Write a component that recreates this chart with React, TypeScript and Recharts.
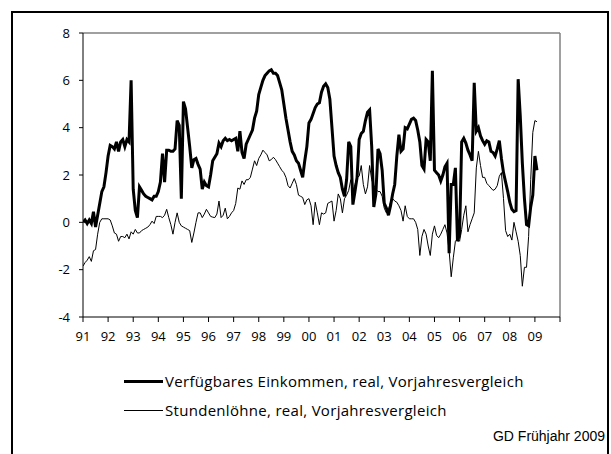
import React from 'react';
import { LineChart, Line, XAxis, YAxis, ReferenceLine } from 'recharts';

// Verfügbares Einkommen, real, Vorjahresvergleich (monthly, Jan 1991 – Feb 2009)
const einkommen: number[] = [
  0.0, 0.1, -0.05, 0.1, -0.05, 0.45, -0.2, 0.3, 0.8, 1.3, 1.5, 2.1, // 1991
  2.8, 3.25, 3.2, 3.1, 3.4, 3.0, 3.4, 3.5, 3.2, 3.5, 3.4, 6.0, // 1992
  1.4, 0.5, 0.2, 1.5, 1.35, 1.2, 1.1, 1.05, 1.0, 0.95, 1.1, 1.1, // 1993
  1.3, 1.7, 2.9, 1.7, 3.05, 3.05, 3.0, 3.0, 3.1, 4.3, 4.1, 1.0, // 1994
  5.1, 4.8, 4.0, 3.2, 2.3, 2.65, 2.7, 2.45, 2.25, 1.4, 1.7, 1.55, // 1995
  1.5, 2.0, 2.6, 2.75, 2.9, 3.35, 3.2, 3.45, 3.55, 3.45, 3.5, 3.45, // 1996
  3.5, 3.55, 3.0, 3.85, 2.95, 2.7, 3.3, 3.5, 3.7, 3.9, 4.4, 4.7, // 1997
  5.4, 5.7, 6.0, 6.2, 6.3, 6.4, 6.45, 6.3, 6.3, 6.2, 5.9, 5.6, // 1998
  5.0, 4.4, 3.9, 3.4, 3.0, 2.85, 2.6, 2.5, 2.2, 1.9, 2.6, 3.2, // 1999
  4.2, 4.35, 4.6, 4.85, 5.0, 5.05, 5.5, 5.75, 5.85, 5.7, 5.2, 4.0, // 2000
  2.8, 2.4, 2.1, 1.9, 1.4, 1.1, 1.8, 3.4, 3.2, 0.75, 1.3, 1.9, // 2001
  3.5, 3.75, 3.85, 4.3, 4.65, 4.75, 3.2, 0.65, 1.2, 3.1, 2.9, 2.2, // 2002
  0.8, 0.6, 0.3, 0.7, 1.2, 1.6, 2.8, 3.7, 3.0, 3.1, 4.0, 3.95, // 2003
  4.15, 4.35, 4.4, 4.3, 3.9, 3.4, 2.4, 2.25, 3.5, 3.4, 2.6, 6.4, // 2004
  2.2, 2.1, 2.0, 1.75, 2.0, 2.35, 2.5, -1.3, 1.6, 1.6, 2.3, -0.8, // 2005
  -0.5, 3.4, 3.55, 3.35, 3.05, 2.85, 2.6, 5.9, 3.85, 4.0, 3.65, 3.45, // 2006
  3.3, 3.45, 3.4, 3.0, 2.95, 2.8, 3.1, 3.45, 2.7, 2.1, 1.7, 1.3, // 2007
  0.85, 0.55, 0.45, 0.5, 6.05, 4.5, 2.5, 1.0, -0.1, -0.15, 0.65, 1.15, // 2008
  2.8, 2.2, // 2009
];

// Stundenlöhne, real, Vorjahresvergleich (monthly, Jan 1991 – Feb 2009)
const stundenloehne: number[] = [
  -1.85, -1.7, -1.6, -1.45, -1.65, -1.2, -1.15, -0.5, 0.0, 0.15, 0.15, 0.15, // 1991
  0.15, 0.1, -0.15, -0.45, -0.5, -0.8, -0.6, -0.6, -0.65, -0.5, -0.7, -0.4, // 1992
  -0.5, -0.3, -0.45, -0.45, -0.35, -0.3, -0.25, -0.2, -0.1, 0.05, -0.05, 0.25, // 1993
  0.25, 0.25, 0.2, 0.3, 0.55, 0.2, -0.1, -0.5, 0.0, 0.4, 0.0, -0.15, // 1994
  -0.2, -0.25, -0.3, -0.35, -0.85, -0.45, 0.0, 0.4, 0.4, 0.2, 0.35, 0.55, // 1995
  0.4, 0.25, 0.22, 0.2, 0.35, 0.9, 0.2, 0.3, 0.6, 0.15, 0.25, 0.4, // 1996
  0.5, 0.8, 1.45, 1.4, 1.75, 1.6, 1.8, 1.8, 1.9, 2.25, 2.6, 2.4, // 1997
  2.7, 2.85, 3.05, 2.95, 2.85, 2.6, 2.65, 2.75, 2.65, 2.5, 2.35, 2.2, // 1998
  2.1, 1.9, 1.55, 1.45, 1.65, 1.85, 1.6, 1.15, 1.1, 1.05, 0.75, 0.95, // 1999
  1.0, 0.7, -0.1, 0.85, 0.4, -0.1, 0.4, 0.35, 0.4, 0.8, 0.85, 0.9, // 2000
  0.05, 0.5, 1.2, 1.0, 0.4, 1.0, 1.15, 1.35, 1.8, 1.3, 1.6, 1.9, // 2001
  1.95, 2.4, 1.6, 1.2, 1.5, 2.4, 1.8, 1.55, 1.4, 1.3, 1.3, 1.1, // 2002
  0.6, 0.4, 0.55, 0.85, 1.0, 0.9, 0.85, 0.7, 0.5, 0.05, 0.7, 0.25, // 2003
  0.15, 0.15, 0.15, 0.0, -0.3, -1.4, -0.6, -0.3, -0.5, -1.0, -1.4, -0.5, // 2004
  -0.15, -0.55, -0.65, -0.5, -0.3, -0.1, -0.45, -1.2, -2.3, -1.5, -0.8, -0.7, // 2005
  -0.8, -0.3, 0.3, 0.7, -0.4, -0.1, 0.15, 0.4, 2.3, 3.0, 2.4, 1.9, // 2006
  1.9, 1.65, 1.55, 1.45, 1.35, 1.4, 1.55, 1.95, 2.1, 1.0, -0.35, -0.6, // 2007
  -0.5, -0.75, 0.0, -0.4, -0.8, -1.4, -2.7, -1.9, -1.9, -0.6, 1.8, 3.8, // 2008
  4.3, 4.25, // 2009
];

const startYear = 1991;
const yearTicks: number[] = [1991, 1992, 1993, 1994, 1995, 1996, 1997, 1998, 1999, 2000, 2001, 2002, 2003, 2004, 2005, 2006, 2007, 2008, 2009, 2010];
const yearLabels: string[] = ['91', '92', '93', '94', '95', '96', '97', '98', '99', '00', '01', '02', '03', '04', '05', '06', '07', '08', '09', ''];
const valueTicks: number[] = [-4, -2, 0, 2, 4, 6, 8];

const seriesNames = {
  einkommen: 'Verfügbares Einkommen, real, Vorjahresvergleich',
  loehne: 'Stundenlöhne, real, Vorjahresvergleich',
};
const sourceNote = 'GD Frühjahr 2009';

const data = einkommen.map((v, i) => ({
  t: startYear + i / 12,
  einkommen: v,
  loehne: stundenloehne[i],
}));

const FONT = '"Open Sans", "Noto Sans", sans-serif';

export default function App() {
  return (
    <div style={{ position: 'absolute', left: 0, top: 0, width: 611, height: 454, background: '#fff', overflow: 'hidden' }}>
      <div style={{ position: 'absolute', left: 11, top: 11, width: 594, height: 445, border: '2px solid #000', boxSizing: 'content-box' }} />
      <LineChart width={611} height={454} data={data} margin={{ top: 33, right: 51, bottom: 107, left: 0 }}>
        <XAxis
          dataKey="t"
          type="number"
          domain={[1991, 2010]}
          ticks={yearTicks}
          tickFormatter={(v: number) => yearLabels[yearTicks.indexOf(v)] ?? ''}
          height={30}
          stroke="#000"
          tickSize={5}
          tickMargin={10}
          tick={{ fill: '#000', fontSize: 13, fontFamily: FONT }}
          interval={0}
          allowDataOverflow
        />
        <YAxis
          type="number"
          domain={[-4, 8]}
          ticks={valueTicks}
          width={83}
          stroke="#000"
          tickSize={4}
          tickMargin={9}
          tick={{ fill: '#000', fontSize: 13, fontFamily: FONT }}
          interval={0}
        />
        <ReferenceLine y={8} stroke="#808080" strokeWidth={1.5} />
        <ReferenceLine x={2010} stroke="#808080" strokeWidth={1.5} />
        <Line type="linear" dataKey="loehne" stroke="#000" strokeWidth={1} dot={false} isAnimationActive={false} />
        <Line type="linear" dataKey="einkommen" stroke="#000" strokeWidth={3} dot={false} isAnimationActive={false} />
      </LineChart>
      <div style={{ position: 'absolute', left: 124, top: 371, fontFamily: FONT, fontSize: 15, letterSpacing: 0.3, color: '#000', lineHeight: '20px' }}>
        <div style={{ display: 'flex', alignItems: 'center', height: 20 }}>
          <span style={{ display: 'inline-block', width: 39, height: 3, background: '#000', marginRight: 2 }} />
          <span>{seriesNames.einkommen}</span>
        </div>
        <div style={{ display: 'flex', alignItems: 'center', height: 20, marginTop: 9 }}>
          <span style={{ display: 'inline-block', width: 39, height: 1, background: '#000', marginRight: 2 }} />
          <span>{seriesNames.loehne}</span>
        </div>
      </div>
      <div style={{ position: 'absolute', right: 6, top: 428, fontFamily: '"Liberation Sans", Arial, sans-serif', fontSize: 14, color: '#000' }}>
        {sourceNote}
      </div>
    </div>
  );
}
